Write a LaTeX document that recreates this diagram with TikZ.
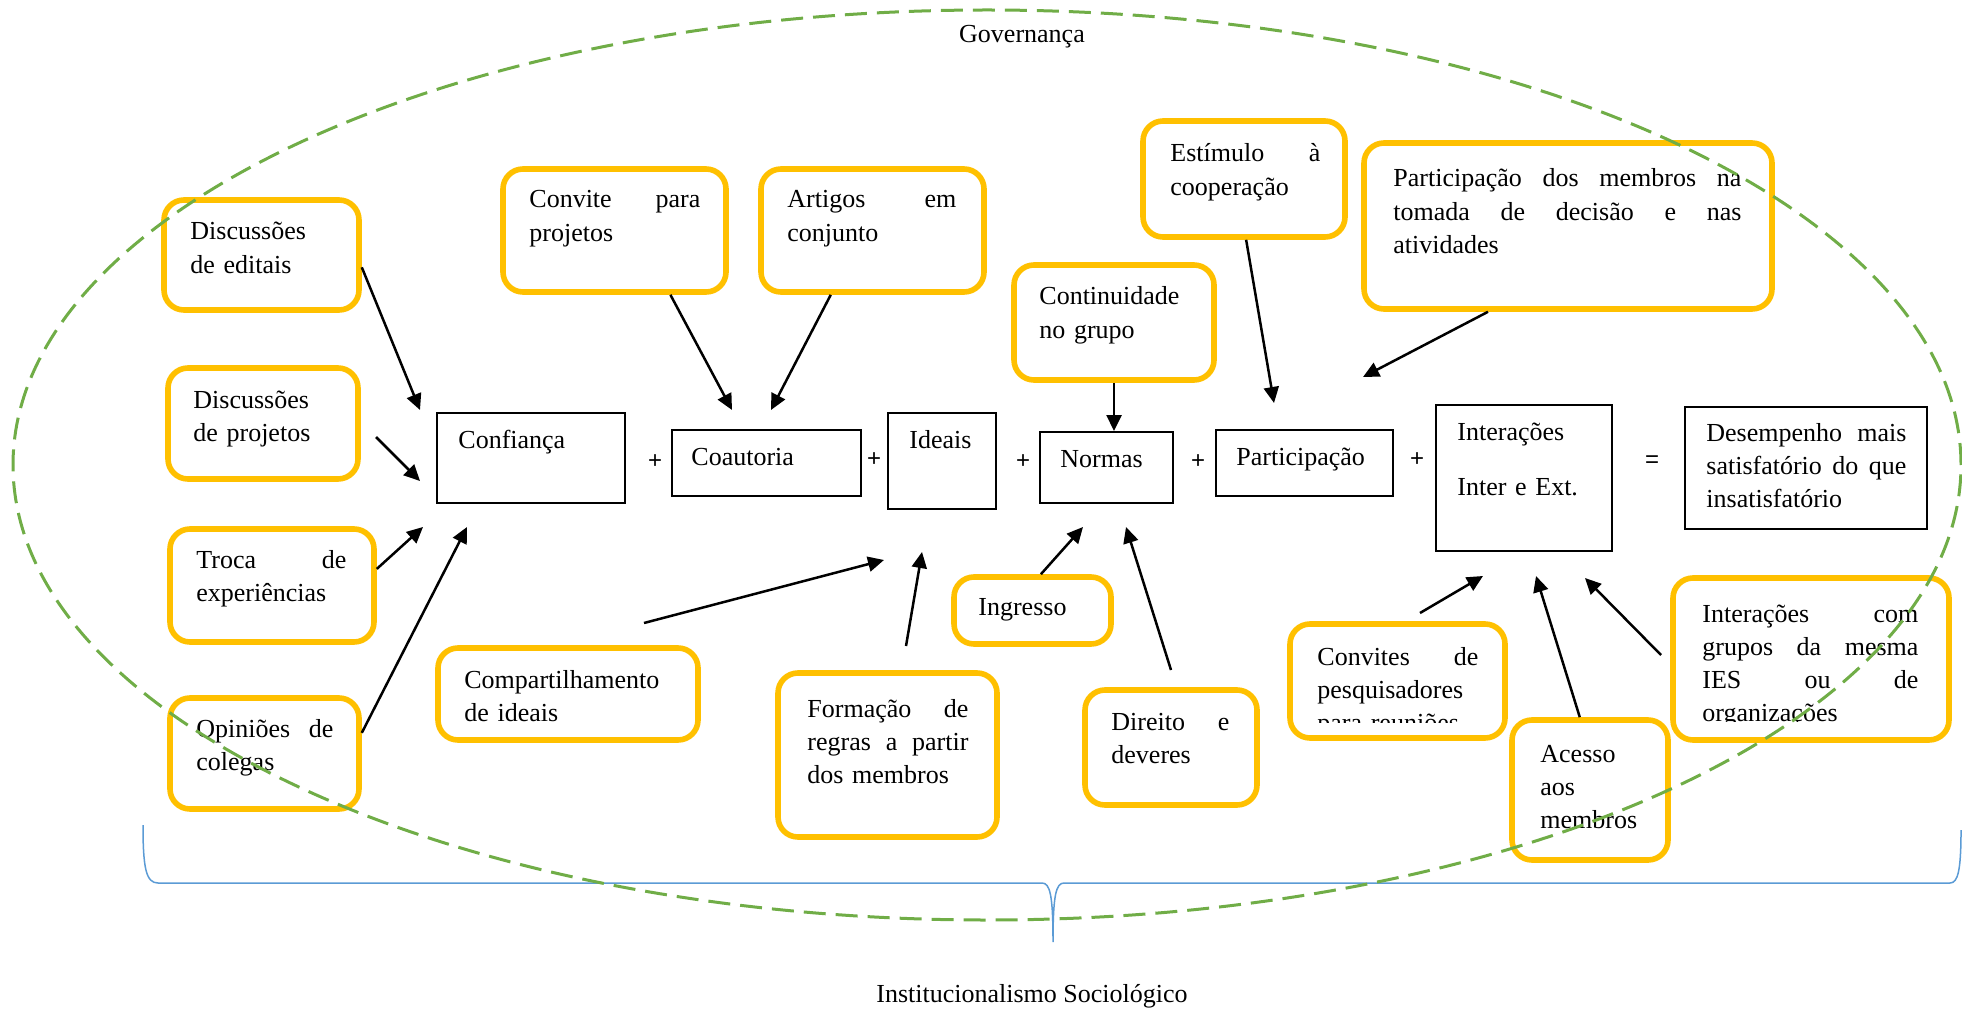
\documentclass[tikz,border=0pt]{standalone}
\usepackage{fontspec}
\setmainfont{Liberation Serif}
\newfontfamily\sansplus{Liberation Sans}
\usetikzlibrary{arrows.meta,fit}
\definecolor{gold}{HTML}{FFC000}
\definecolor{leaf}{HTML}{70AD47}
\definecolor{sky}{HTML}{5B9BD5}
\newcommand\spread[2]{\leavevmode\makebox[#1pt][l]{#2}}
\newcommand\gap{\hfill}
\begin{document}
\begin{tikzpicture}[x=0.5pt,y=-0.5pt,
  ybox/.style={draw=gold, line width=2.8pt, rounded corners=10pt, inner sep=0pt},
  kbox/.style={draw=black, line width=1pt, inner sep=0pt},
  txt/.style={anchor=base west, inner sep=0pt, align=left, font=\fontsize{13pt}{16.6pt}\selectfont},
  ttl/.style={anchor=base, inner sep=0pt, font=\fontsize{13pt}{16.6pt}\selectfont},
  arr/.style={line width=1.25pt, -{Triangle[length=8pt,width=7.5pt]}},
  op/.style={inner sep=0pt, font=\sansplus\fontsize{12pt}{14pt}\selectfont},
]
\useasboundingbox (0,0) rectangle (1962,1010);

% yellow boxes
\node[ybox, fit={(164,200)(359,310)}] (editais) {};
\node[ybox, fit={(168,368)(358,479)}] (projetos) {};
\node[ybox, fit={(170,529)(374,642)}] (troca) {};
\node[ybox, fit={(170,698)(359,809)}] (opinioes) {};
\node[ybox, fit={(503,169)(726,292)}] (convite) {};
\node[ybox, fit={(761,169)(984,292)}] (artigos) {};
\node[ybox, fit={(1014,265)(1214,380)}] (continuidade) {};
\node[ybox, fit={(1143,121)(1345,237)}] (estimulo) {};
\node[ybox, fit={(1364,143)(1772,309)}] (partmembros) {};
\node[ybox, fit={(438,648)(698,740)}] (compart) {};
\node[ybox, fit={(778,673)(997,837)}] (formacao) {};
\node[ybox, fit={(954,577)(1111,644)}] (ingresso) {};
\node[ybox, fit={(1085,690)(1257,805)}] (direito) {};
\node[ybox, fit={(1290,624)(1505,738)}] (convites) {};
\node[ybox, fit={(1512,720)(1668,860)}] (acesso) {};
\node[ybox, fit={(1673,578)(1949,740)}] (intercom) {};

% black boxes
\node[kbox, fit={(437,413)(625,503)}] (confianca) {};
\node[kbox, fit={(672,430)(861,496)}] (coautoria) {};
\node[kbox, fit={(888,413)(996,509)}] (ideais) {};
\node[kbox, fit={(1040,432)(1173,503)}] (normas) {};
\node[kbox, fit={(1216,430)(1393,496)}] (particip) {};
\node[kbox, fit={(1436,405)(1612,551)}] (interacoes) {};
\node[kbox, fit={(1685,407)(1927,529)}] (desempenho) {};

% texts of yellow boxes
\node[txt, text width=80pt] (tEditais) at (190,240) {Discussões\\de editais};
\node[txt, text width=80pt] (tProjetos) at (193,408) {Discussões\\de projetos};
\node[txt, text width=80pt] (tTroca) at (196,568) {\spread{75}{Troca\gap de}\\experiências};
\node[txt, text width=80pt] (tOpinioes) at (196,737) {\spread{68.5}{Opiniões\gap de}\\colegas};
\node[txt, text width=90pt] (tConvite) at (529,208) {\spread{85.5}{Convite\gap para}\\projetos};
\node[txt, text width=90pt] (tArtigos) at (787,208) {\spread{84.5}{Artigos\gap em}\\conjunto};
\node[txt, text width=85pt] (tCont) at (1039,305) {Continuidade\\no grupo};
\node[txt, text width=80pt] (tEstimulo) at (1170,162) {\spread{75}{Estímulo\gap à}\\cooperação};
\node[txt, text width=180pt] (tPartM) at (1393,187) {\spread{174}{Participação\gap dos\gap membros\gap na}\\\spread{174}{tomada\gap de\gap decisão\gap e\gap nas}\\atividades};
\node[txt, text width=120pt] (tCompart) at (464,688) {Compartilhamento\\de ideais};
\node[txt, text width=85pt] (tFormacao) at (807,717) {\spread{80.5}{Formação\gap de}\\\spread{80.5}{regras\gap a\gap partir}\\dos membros};
\node[txt, text width=60pt] (tIngresso) at (978,615) {Ingresso};
\node[txt, text width=65pt] (tDireito) at (1111,730) {\spread{59}{Direito\gap e}\\deveres};
\begin{scope}
\clip (1290,600) rectangle (1505,722);
\node[txt, text width=85pt] (tConvites) at (1317,665) {\spread{80.5}{Convites\gap de}\\pesquisadores\\para reuniões};
\end{scope}
\begin{scope}
\clip (1673,578) rectangle (1949,721);
\node[txt, text width=112pt] (tIntercom) at (1702,622) {\spread{108}{Interações\gap com}\\\spread{108}{grupos\gap da\gap mesma}\\\spread{108}{IES\gap ou\gap de}\\organizações};
\end{scope}
\node[txt, text width=60pt] (tAcesso) at (1540,762) {Acesso\\aos\\membros};

% texts of black boxes
\node[txt] (tConfianca) at (458,448) {Confiança};
\node[txt] (tCoautoria) at (691,465) {Coautoria};
\node[txt] (tIdeais) at (909,448) {Ideais};
\node[txt] (tNormas) at (1060,467) {Normas};
\node[txt] (tParticip) at (1236,465) {Participação};
\node[txt, text width=70pt] (tInteracoes) at (1457,440) {Interações\\[10.9pt]Inter e Ext.};
\node[txt, text width=105pt] (tDesemp) at (1706,441) {\spread{100}{Desempenho\gap mais}\\\spread{100}{satisfatório\gap do\gap que}\\insatisfatório};

% operators
\node[op] (p1) at (655,462) {+};
\node[op] (p2) at (874,460) {+};
\node[op] (p3) at (1023,462) {+};
\node[op] (p4) at (1198,462) {+};
\node[op] (p5) at (1417,460) {+};
\node[op] (eq) at (1652,462) {=};

% titles
\node[ttl] (gov) at (1022,43) {Governança};
\node[ttl] (inst) at (1032,1002) {Institucionalismo Sociológico};

% free arrow ends
\coordinate (e1) at (420,410);
\coordinate (s2) at (376,437); \coordinate (e2) at (420,481);
\coordinate (e3) at (423,527);
\coordinate (e4) at (467,527);
\coordinate (s5) at (644,623); \coordinate (e5) at (884,560);
\coordinate (s6) at (906,646); \coordinate (e6) at (922,552);
\coordinate (e7) at (1083,527);
\coordinate (s8) at (1171,670); \coordinate (e8) at (1126,527);
\coordinate (e9) at (732,410);
\coordinate (e10) at (771,410);
\coordinate (e12) at (1274,403);
\coordinate (e13) at (1363,377);
\coordinate (s14) at (1420,613); \coordinate (e14) at (1483,576);
\coordinate (e15) at (1536,576);
\coordinate (s16) at (1661,655); \coordinate (e16) at (1585,578);

% arrows
\draw[arr] (editais.-7) -- (e1);
\draw[arr] (s2) -- (e2);
\draw[arr] (troca.9) -- (e3);
\draw[arr] (opinioes.12) -- (e4);
\draw[arr] (s5) -- (e5);
\draw[arr] (s6) -- (e6);
\draw[arr] (ingresso.77) -- (e7);
\draw[arr] (s8) -- (e8);
\draw[arr] (convite.-49) -- (e9);
\draw[arr] (artigos.-123) -- (e10);
\draw[arr] (continuidade.south) -- (continuidade.south |- normas.north);
\draw[arr] (estimulo.-88) -- (e12);
\draw[arr] (partmembros.-133) -- (e13);
\draw[arr] (s14) -- (e14);
\draw[arr] (acesso.98) -- (e15);
\draw[arr] (s16) -- (e16);

% brace
\draw[sky, line width=0.75pt] (143,825) .. controls (143,868) and (146,883) .. (158,883) -- (1042,883)
  .. controls (1050,883) and (1053,895) .. (1053,942)
  .. controls (1053,895) and (1056,883) .. (1064,883) -- (1950,883)
  .. controls (1958,883) and (1961,870) .. (1961,830);

% governance ellipse
\draw[leaf, line width=1.5pt, dash pattern=on 11pt off 5pt] (987,465) ellipse [x radius=487pt, y radius=227.5pt];
\end{tikzpicture}
\end{document}
